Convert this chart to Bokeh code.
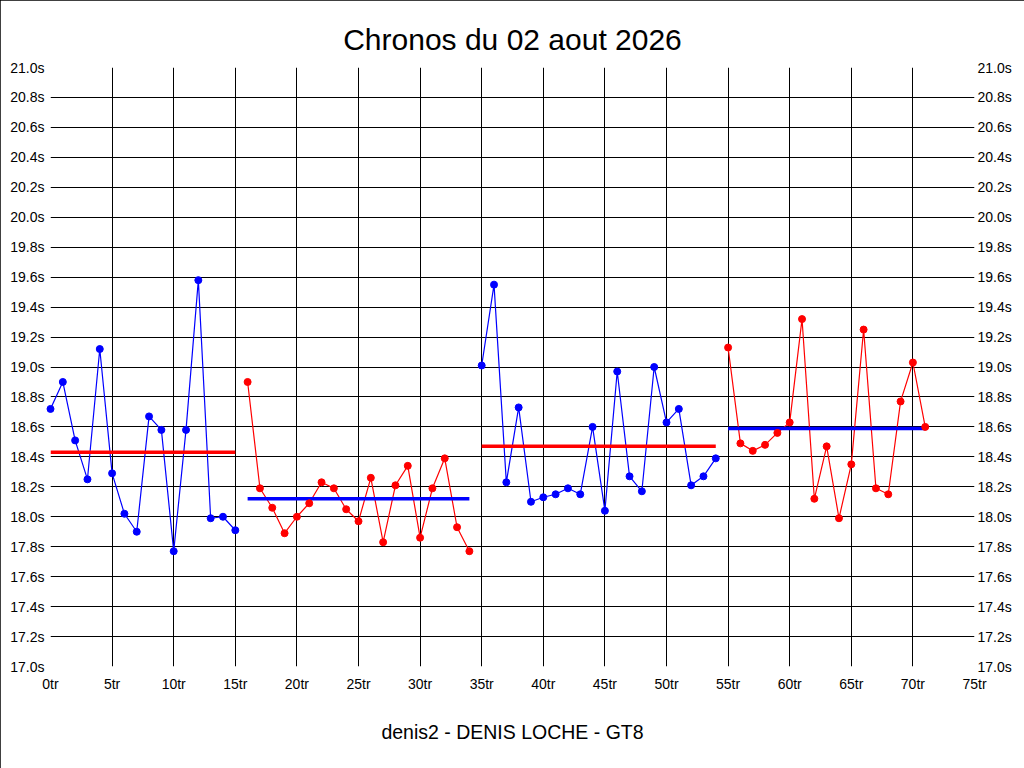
from bokeh.plotting import figure
from bokeh.models import FixedTicker, PrintfTickFormatter, LinearAxis, Range1d, InlineStyleSheet
from bokeh.embed import file_html
from bokeh.resources import INLINE

# ---- data ----
title_text = "Chronos du 02 aout 2026"
driver_text = "denis2 - DENIS LOCHE - GT8"

stint1_laps = list(range(0, 16))
stint1_times = [18.72, 18.90, 18.51, 18.25, 19.12, 18.29, 18.02, 17.90,
                18.67, 18.58, 17.77, 18.58, 19.58, 17.99, 18.00, 17.91]
stint2_laps = list(range(16, 35))
stint2_times = [18.90, 18.19, 18.06, 17.89, 18.00, 18.09, 18.23, 18.19,
                18.05, 17.97, 18.26, 17.83, 18.21, 18.34, 17.86, 18.19,
                18.39, 17.93, 17.77]
stint3_laps = list(range(35, 55))
stint3_times = [19.01, 19.55, 18.23, 18.73, 18.10, 18.13, 18.15, 18.19,
                18.15, 18.60, 18.04, 18.97, 18.27, 18.17, 19.00, 18.63,
                18.72, 18.21, 18.27, 18.39]
stint4_laps = list(range(55, 72))
stint4_times = [19.13, 18.49, 18.44, 18.48, 18.56, 18.63, 19.32, 18.12,
                18.47, 17.99, 18.35, 19.25, 18.19, 18.15, 18.77, 19.03,
                18.60]
stint_means = [18.43, 18.12, 18.47, 18.59]
stint_colors = ["#0000FF", "#FF0000", "#0000FF", "#FF0000"]
mean_colors = ["#FF0000", "#0000FF", "#FF0000", "#0000FF"]

x_ticks = list(range(0, 80, 5))
grid_x_ticks = list(range(0, 75, 5))
y_ticks = [17.0, 17.2, 17.4, 17.6, 17.8, 18.0, 18.2, 18.4, 18.6, 18.8, 19.0,
           19.2, 19.4, 19.6, 19.8, 20.0, 20.2, 20.4, 20.6, 20.8, 21.0]

FONT = "Liberation Sans"

p = figure(width=1024, height=768, output_backend="svg", toolbar_location=None,
           x_range=Range1d(0, 75), y_range=Range1d(17.0, 21.0),
           min_border_left=50, min_border_right=50, min_border_top=67,
           min_border_bottom=102)
p.outline_line_color = None
p.background_fill_color = "white"
p.border_fill_color = "white"
p.stylesheets = [InlineStyleSheet(css=":host { outline: 1px solid black; outline-offset: -1px; }")]

p.title.text = title_text
p.title.align = "center"
p.title.text_font = FONT
p.title.text_font_size = "30px"
p.title.text_font_style = "normal"
p.title.text_color = "black"
p.title.offset = 6
p.title.standoff = 24

# axes
xa = p.xaxis[0]
xa.ticker = FixedTicker(ticks=x_ticks)
xa.formatter = PrintfTickFormatter(format="%dtr")
xa.axis_label = driver_text
xa.axis_label_text_font = FONT
xa.axis_label_text_font_size = "19.5px"
xa.axis_label_text_font_style = "normal"
xa.axis_label_text_color = "black"
xa.axis_label_standoff = 26
ya = p.yaxis[0]
ya.ticker = FixedTicker(ticks=y_ticks)
ya.formatter = PrintfTickFormatter(format="%.1fs")

ya2 = LinearAxis(ticker=FixedTicker(ticks=y_ticks),
                 formatter=PrintfTickFormatter(format="%.1fs"))
p.add_layout(ya2, "right")

for ax in [xa, ya, ya2]:
    ax.axis_line_color = None
    ax.major_tick_line_color = None
    ax.minor_tick_line_color = None
    ax.major_tick_out = 0
    ax.major_tick_in = 0
    ax.major_label_text_font = FONT
    ax.major_label_text_font_size = "14px"
    ax.major_label_text_color = "black"
xa.major_label_standoff = 9
ya.major_label_standoff = 6
ya2.major_label_standoff = 3

# grid
p.xgrid.ticker = FixedTicker(ticks=grid_x_ticks)
p.ygrid.ticker = FixedTicker(ticks=y_ticks)
for g in [p.xgrid[0], p.ygrid[0]]:
    g.grid_line_color = "black"
    g.grid_line_width = 1
    g.grid_line_alpha = 1.0

stints = [(stint1_laps, stint1_times), (stint2_laps, stint2_times),
          (stint3_laps, stint3_times), (stint4_laps, stint4_times)]

for (laps, times), c, m, mc in zip(stints, stint_colors, stint_means, mean_colors):
    p.line(laps, times, line_color=c, line_width=1.2)
    p.scatter(laps, times, size=7, fill_color=c, line_color=c, marker="circle",
              level="overlay")
    p.line([laps[0], laps[-1]], [m, m], line_color=mc, line_width=3.5)

open("out.html", "w").write(file_html(p, INLINE))
